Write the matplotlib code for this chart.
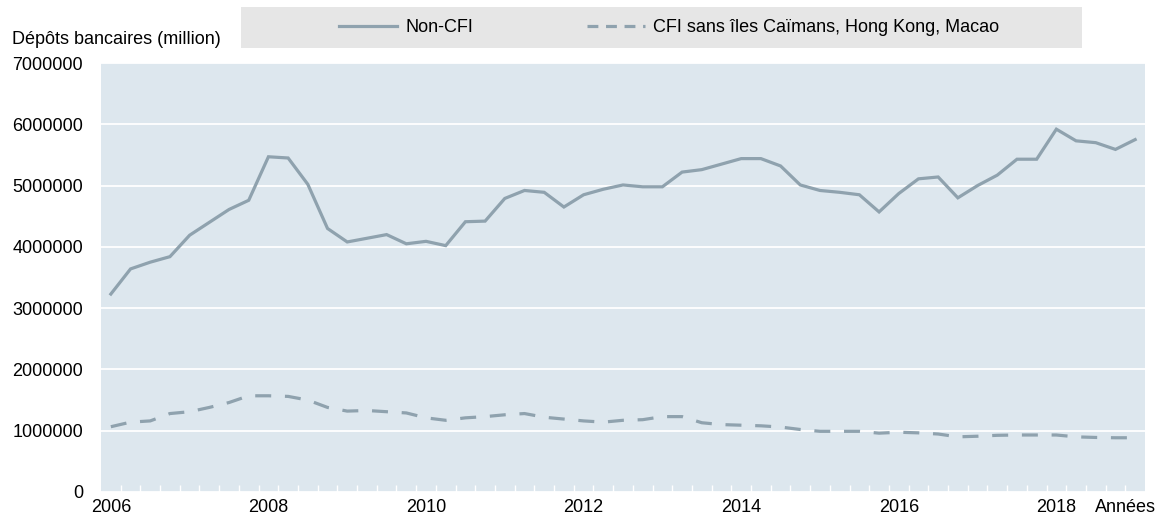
import matplotlib
matplotlib.use("Agg")
import matplotlib.pyplot as plt
from matplotlib.patches import Rectangle
from matplotlib.lines import Line2D
from matplotlib import font_manager

names = {f.name for f in font_manager.fontManager.ttflist}
FONT = "Liberation Sans Narrow" if "Liberation Sans Narrow" in names else "Liberation Sans"
plt.rcParams['font.family'] = [FONT, 'DejaVu Sans']
FS = 13

# Quarterly data 2006Q1 .. 2019Q1
non_cfi = [3.23, 3.64, 3.75, 3.84, 4.19, 4.40, 4.61, 4.76, 5.47, 5.45,
           5.02, 4.30, 4.08, 4.14, 4.20, 4.05, 4.09, 4.02, 4.41, 4.42,
           4.79, 4.92, 4.89, 4.65, 4.85, 4.94, 5.01, 4.98, 4.98, 5.22,
           5.26, 5.35, 5.44, 5.44, 5.32, 5.01, 4.92, 4.89, 4.85, 4.57,
           4.87, 5.11, 5.14, 4.80, 5.00, 5.17, 5.43, 5.43, 5.92, 5.73,
           5.70, 5.59, 5.75]
cfi = [1.065, 1.14, 1.16, 1.28, 1.31, 1.38, 1.46, 1.57, 1.57, 1.56,
       1.50, 1.38, 1.32, 1.33, 1.31, 1.29, 1.21, 1.17, 1.21, 1.23,
       1.26, 1.28, 1.22, 1.19, 1.16, 1.14, 1.17, 1.18, 1.23, 1.23,
       1.13, 1.10, 1.09, 1.08, 1.06, 1.02, 0.99, 0.99, 0.99, 0.96,
       0.975, 0.965, 0.946, 0.90, 0.91, 0.925, 0.93, 0.93, 0.93, 0.90,
       0.89, 0.885, 0.885]
non_cfi = [v * 1e6 for v in non_cfi]
cfi = [v * 1e6 for v in cfi]
year_labels = ["2006", "2008", "2010", "2012", "2014", "2016", "2018"]
y_ticks = [0, 1000000, 2000000, 3000000, 4000000, 5000000, 6000000, 7000000]
series_names = ["Non-CFI", "CFI sans îles Caïmans, Hong Kong, Macao"]

W, H = 1162, 519
fig = plt.figure(figsize=(W / 100, H / 100), dpi=100)
ax = fig.add_axes([101 / W, 1 - 492 / H, (1145 - 101) / W, (492 - 63) / H])

BG = "#dde7ee"
LINE = "#8fa2ae"
ax.set_facecolor(BG)
for s in ax.spines.values():
    s.set_visible(False)

x = list(range(len(non_cfi)))
l1, = ax.plot(x, non_cfi, color=LINE, lw=2.3, solid_joinstyle='miter', label=series_names[0])
ax.plot(x, cfi, color=LINE, lw=2.3, dashes=(5, 4.3), label=series_names[1])
l2 = Line2D([], [], color=LINE, lw=2.3, dashes=(3.4, 2.4))

ax.set_xlim(-0.5, len(x) - 0.5)
ax.set_ylim(0, 7000000)
ax.set_yticks(y_ticks)
ax.set_yticklabels([str(v) for v in y_ticks])
ax.yaxis.grid(True, color='white', lw=1.3)
ax.set_axisbelow(True)
ax.tick_params(axis='y', length=0, labelsize=FS, pad=13)

major_pos = [i * 8 for i in range(len(year_labels))]
ax.set_xticks(major_pos)
ax.set_xticklabels(year_labels)
ax.tick_params(axis='x', length=0, labelsize=FS, pad=5)
ax.set_xticks([i - 0.5 for i in range(1, len(x))], minor=True)
ax.tick_params(axis='x', which='minor', direction='in', length=5, width=1, color='white')

fig.text(1125 / W, 1 - 508 / H, "Années", ha='center', va='center', fontsize=FS)
fig.text(12 / W, 1 - 40 / H, "Dépôts bancaires (million)", ha='left', va='center', fontsize=FS)

# Legend box
fig.patches.append(Rectangle((241 / W, 1 - 48 / H), (1082 - 241) / W, 41 / H,
                             transform=fig.transFigure, facecolor="#e6e6e6",
                             edgecolor='none', zorder=0))
fig.legend(handles=[l1, l2], labels=series_names, loc='center',
           bbox_to_anchor=(669 / W, 1 - 28 / H),
           ncol=2, frameon=False, fontsize=FS, handlelength=3.2,
           handletextpad=0.45, columnspacing=6.3)

fig.savefig("out.png", dpi=100)
